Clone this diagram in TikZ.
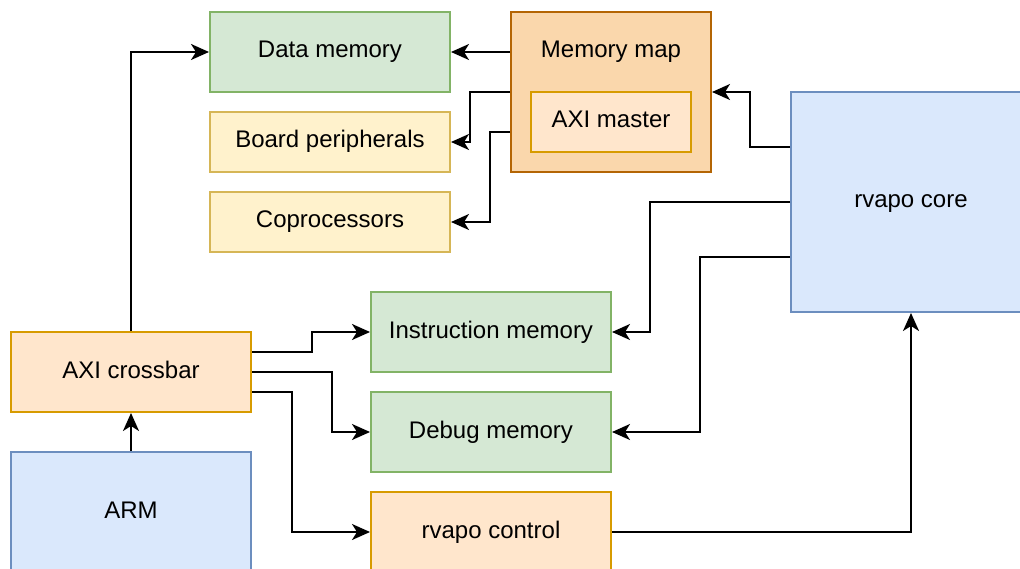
\documentclass[tikz,border=0pt]{standalone}
\usepackage{fontspec}
\setmainfont{Liberation Sans}
\usetikzlibrary{arrows.meta,calc}
\definecolor{gfill}{HTML}{D5E8D4}\definecolor{gline}{HTML}{82B366}
\definecolor{yfill}{HTML}{FFF2CC}\definecolor{yline}{HTML}{D6B656}
\definecolor{ofill}{HTML}{FFE6CC}\definecolor{oline}{HTML}{D79B00}
\definecolor{mfill}{HTML}{FAD7AC}\definecolor{mline}{HTML}{B46504}
\definecolor{bfill}{HTML}{DAE8FC}\definecolor{bline}{HTML}{6C8EBF}
\begin{document}
\begin{tikzpicture}[x=1pt,y=-1pt,
  font=\fontsize{24}{28}\selectfont,
  every node/.style={text height=17pt,text depth=5pt},
  box/.style={draw,line width=2pt,inner sep=0pt,anchor=center},
  green/.style={box,fill=gfill,draw=gline},
  yellowbox/.style={box,fill=yfill,draw=yline},
  orangebox/.style={box,fill=ofill,draw=oline},
  mapbox/.style={box,fill=mfill,draw=mline},
  bluebox/.style={box,fill=bfill,draw=bline},
  conn/.style={line width=2pt,-{Stealth[length=18pt,width=16pt,inset=5pt]}}]
\useasboundingbox (0,0) rectangle (1020,569);
\begin{scope}
\clip (0,0) rectangle (1020,569);
\node[green,minimum width=240pt,minimum height=80pt] (data) at (330,52) {Data memory};
\node[mapbox,minimum width=200pt,minimum height=160pt] (memmap) at (611,92) {};
\node (memmaplbl) at (611,52) {Memory map};
\node[orangebox,minimum width=160pt,minimum height=60pt] (axim) at (611,122) {AXI master};
\node[yellowbox,minimum width=240pt,minimum height=60pt] (board) at (330,142) {Board peripherals};
\node[yellowbox,minimum width=240pt,minimum height=60pt] (copro) at (330,222) {Coprocessors};
\node[bluebox,minimum width=240pt,minimum height=220pt] (core) at (911,202) {rvapo core};
\node[green,minimum width=240pt,minimum height=80pt] (instr) at (491,332) {Instruction memory};
\node[green,minimum width=240pt,minimum height=80pt] (debug) at (491,432) {Debug memory};
\node[orangebox,minimum width=240pt,minimum height=80pt] (ctrl) at (491,532) {rvapo control};
\node[orangebox,minimum width=240pt,minimum height=80pt] (axi) at (131,372) {AXI crossbar};
\node[bluebox,minimum width=240pt,minimum height=120pt] (arm) at (131,512) {ARM};

\draw[conn] (axi.north) |- (data.west);
\draw[conn] (memmap.west |- data.east) -- (data.east);
\draw[conn] (memmap.west) -- ++(-40,0) |- (board.east);
\draw[conn] ([yshift=-40pt]memmap.west) -- ++(-20,0) |- (copro.east);
\draw[conn] ([yshift=55pt]core.west) -- ++(-40,0) |- (memmap.east);
\draw[conn] (core.west) -- ++(-140,0) |- (instr.east);
\draw[conn] ([yshift=-55pt]core.west) -- ++(-90,0) |- (debug.east);
\draw[conn] ([yshift=20pt]axi.east) -- ++(60,0) |- (instr.west);
\draw[conn] (axi.east) -- ++(80,0) |- (debug.west);
\draw[conn] ([yshift=-20pt]axi.east) -- ++(40,0) |- (ctrl.west);
\draw[conn] (arm.north) -- (axi.south);
\draw[conn] (ctrl.east) -| (core.south);
\end{scope}
\end{tikzpicture}
\end{document}
